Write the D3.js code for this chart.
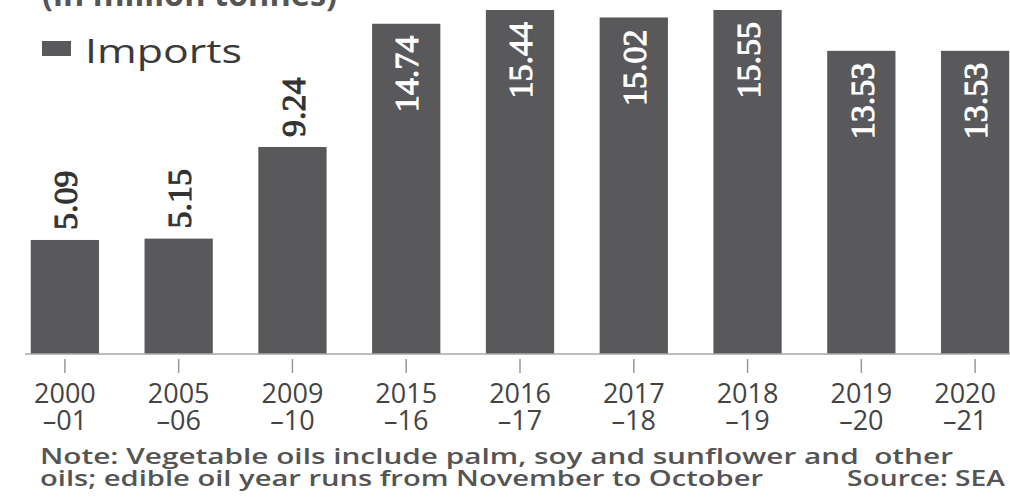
<!DOCTYPE html>
<html>
<head>
<meta charset="utf-8">
<script src="https://cdn.jsdelivr.net/npm/d3@7"></script>
<style>
  html, body { margin: 0; padding: 0; background: #fff; }
  svg { display: block; }
  text { white-space: pre; }
</style>
</head>
<body>
<svg id="chart" width="1010" height="497"></svg>
<script>
// Edible oil imports by oil year (mn tonnes)
const yearTop    = ["2000", "2005", "2009", "2015", "2016", "2017", "2018", "2019", "2020"];
const yearBottom = ["–01", "–06", "–10", "–16", "–17", "–18", "–19", "–20", "–21"];
const imports    = [5.09, 5.15, 9.24, 14.74, 15.44, 15.02, 15.55, 13.53, 13.53];
const seriesName = "Imports";
const unitLabel  = "(in million tonnes)";
const noteLines  = [
  "Note: Vegetable oils include palm, soy and sunflower and  other",
  "oils; edible oil year runs from November to October"
];
const sourceText = "Source: SEA";

const categories = yearTop.map((d, i) => d + yearBottom[i]);
const data = categories.map((c, i) => ({ key: c, top: yearTop[i], bottom: yearBottom[i], value: imports[i] }));

const W = 1010, H = 497;
const baseY = 354;
const barColor = "#59595b";

const svg = d3.select("#chart");

const x = d3.scaleBand()
  .domain(categories)
  .range([8, 1032])
  .paddingInner(0.4)
  .paddingOuter(0.2);

const y = d3.scaleLinear().domain([0, 15.8]).range([baseY, 0]);

// plot area is cut at the top edge of the panel
svg.append("defs").append("clipPath").attr("id", "plotClip")
  .append("rect").attr("x", 0).attr("y", 10).attr("width", W).attr("height", H);

// unit line, mostly cut off above the panel
svg.append("text")
  .attr("x", 42).attr("y", 6)
  .attr("font-family", "Open Sans")
  .attr("font-weight", 700)
  .attr("font-size", 32)
  .attr("fill", "#555")
  .attr("textLength", 295)
  .attr("lengthAdjust", "spacingAndGlyphs")
  .text(unitLabel);

// legend
svg.append("rect")
  .attr("x", 42).attr("y", 41).attr("width", 29).attr("height", 15)
  .attr("fill", barColor);
svg.append("text")
  .attr("x", 85).attr("y", 63)
  .attr("font-family", "Open Sans")
  .attr("font-size", 33)
  .attr("fill", "#3a3a3a")
  .attr("textLength", 157)
  .attr("lengthAdjust", "spacingAndGlyphs")
  .text(seriesName);

// bars
const plot = svg.append("g").attr("clip-path", "url(#plotClip)");
plot.selectAll("rect.bar")
  .data(data)
  .join("rect")
  .attr("class", "bar")
  .attr("x", d => x(d.key))
  .attr("width", x.bandwidth())
  .attr("y", d => y(d.value))
  .attr("height", d => baseY - y(d.value))
  .attr("fill", barColor);

// value labels: above short bars, inside tall ones
const insideMin = 10;
svg.append("g").selectAll("text")
  .data(data)
  .join("text")
  .attr("transform", d => {
    const cx = x(d.key) + x.bandwidth() / 2;
    const top = Math.max(y(d.value), 10);
    const ly = d.value >= insideMin ? top + 12 : top - 10;
    return `translate(${cx},${ly}) rotate(-90)`;
  })
  .attr("text-anchor", d => d.value >= insideMin ? "end" : "start")
  .attr("dy", "0.36em")
  .attr("font-family", "Liberation Sans Narrow")
  .attr("font-size", 34)
  .attr("fill", d => d.value >= insideMin ? "#fff" : "#333")
  .attr("stroke", d => d.value >= insideMin ? "#fff" : "#333")
  .attr("stroke-width", 1)
  .text(d => d.value.toFixed(2));

// x axis
const axis = svg.append("g")
  .attr("transform", `translate(0,${baseY})`)
  .call(d3.axisBottom(x).tickSize(0).tickFormat(""));
axis.select(".domain").remove();
axis.append("line")
  .attr("x1", 25).attr("x2", W).attr("y1", 0).attr("y2", 0)
  .attr("stroke", "#a8a8a8").attr("stroke-width", 1.5);
axis.selectAll(".tick").append("line")
  .attr("y1", 5).attr("y2", 19)
  .attr("stroke", "#999").attr("stroke-width", 1.5);
axis.selectAll(".tick text").remove();
const lastShift = -10;
const labelG = axis.selectAll(".tick").append("g")
  .attr("transform", (d, i) => `translate(${i === categories.length - 1 ? lastShift : 0},0)`)
  .attr("text-anchor", "middle")
  .attr("font-family", "Open Sans")
  .attr("font-size", 27)
  .attr("fill", "#444");
labelG.append("text").attr("y", 49).text((d, i) => yearTop[i]);
labelG.append("text").attr("y", 76).text((d, i) => yearBottom[i]);

// note and source
const note = svg.append("g")
  .attr("font-family", "Open Sans")
  .attr("font-weight", 600)
  .attr("font-size", 21)
  .attr("fill", "#555");
note.append("text").attr("x", 40).attr("y", 464)
  .attr("textLength", 913).attr("lengthAdjust", "spacingAndGlyphs")
  .text(noteLines[0]);
note.append("text").attr("x", 40).attr("y", 486)
  .attr("textLength", 723).attr("lengthAdjust", "spacingAndGlyphs")
  .text(noteLines[1]);
note.append("text").attr("x", 847).attr("y", 486)
  .attr("textLength", 158).attr("lengthAdjust", "spacingAndGlyphs")
  .text(sourceText);
</script>
</body>
</html>
